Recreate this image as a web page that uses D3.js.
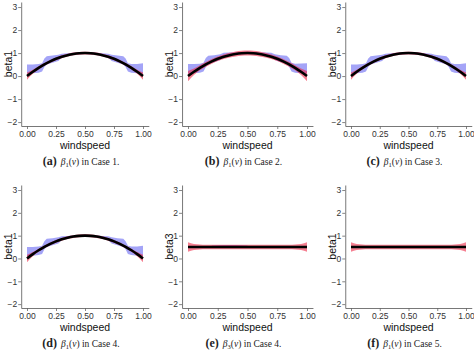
<!DOCTYPE html>
<html>
<head>
<meta charset="utf-8">
<script src="https://cdn.jsdelivr.net/npm/d3@7"></script>
<style>
  body { margin: 0; background: #fff; }
  svg { display: block; }
  .tick text { font-family: "Liberation Sans", Arial, sans-serif; font-size: 8.5px; fill: #333; }
  .axis-title { font-family: "Liberation Sans", Arial, sans-serif; font-size: 10.5px; fill: #111; }
  .caption { font-family: "Liberation Serif", "DejaVu Serif", serif; fill: #222; }
</style>
</head>
<body>
<div id="main"></div>
<script>
const W = 474, H = 351;

// grid for the true curves / red bands
const vGrid = [0, 0.05, 0.10, 0.15, 0.20, 0.25, 0.30, 0.35, 0.40, 0.45, 0.50,
               0.55, 0.60, 0.65, 0.70, 0.75, 0.80, 0.85, 0.90, 0.95, 1.00];
const beta1True = [0.00, 0.19, 0.36, 0.51, 0.64, 0.75, 0.84, 0.91, 0.96, 0.99, 1.00,
                   0.99, 0.96, 0.91, 0.84, 0.75, 0.64, 0.51, 0.36, 0.19, 0.00];
const flatTrue = [0.50, 0.50, 0.50, 0.50, 0.50, 0.50, 0.50, 0.50, 0.50, 0.50, 0.50,
                  0.50, 0.50, 0.50, 0.50, 0.50, 0.50, 0.50, 0.50, 0.50, 0.50];

// half width of the red bands
const redHalfNarrow = [0.16, 0.09, 0.07, 0.06, 0.06, 0.06, 0.06, 0.06, 0.06, 0.06, 0.06,
                       0.06, 0.06, 0.06, 0.06, 0.06, 0.06, 0.06, 0.07, 0.09, 0.16];
const redHalfWide = [0.22, 0.14, 0.11, 0.10, 0.10, 0.10, 0.10, 0.10, 0.11, 0.11, 0.11,
                     0.11, 0.11, 0.10, 0.10, 0.10, 0.10, 0.10, 0.11, 0.14, 0.22];
const redHalfFlat = [0.21, 0.13, 0.11, 0.10, 0.10, 0.10, 0.10, 0.10, 0.10, 0.10, 0.10,
                     0.10, 0.10, 0.10, 0.10, 0.10, 0.10, 0.10, 0.11, 0.13, 0.21];

// blue band (step-like estimates)
const vBlue  = [0.00, 0.05, 0.10, 0.13, 0.15, 0.17, 0.22, 0.27, 0.30, 0.35, 0.40, 0.45, 0.50,
                0.55, 0.60, 0.65, 0.70, 0.73, 0.78, 0.83, 0.85, 0.87, 0.90, 0.95, 1.00];
const blueLo = [0.10, 0.12, 0.15, 0.20, 0.40, 0.50, 0.58, 0.66, 0.80, 0.88, 0.92, 0.95, 0.96,
                0.95, 0.92, 0.88, 0.80, 0.66, 0.58, 0.50, 0.40, 0.20, 0.15, 0.12, 0.10];
const blueHi = [0.50, 0.50, 0.52, 0.56, 0.76, 0.86, 0.89, 0.93, 0.97, 0.99, 1.01, 1.03, 1.04,
                1.03, 1.01, 0.99, 0.97, 0.93, 0.89, 0.86, 0.76, 0.56, 0.52, 0.53, 0.56];
const blueLoB = [0.10, 0.12, 0.15, 0.20, 0.40, 0.52, 0.60, 0.70, 0.84, 0.90, 0.93, 0.95, 0.96,
                 0.95, 0.93, 0.90, 0.84, 0.70, 0.60, 0.52, 0.40, 0.20, 0.15, 0.12, 0.10];
const blueHiB = [0.52, 0.52, 0.54, 0.58, 0.79, 0.88, 0.91, 0.95, 1.01, 1.02, 1.03, 1.05, 1.06,
                 1.05, 1.03, 1.02, 1.01, 0.95, 0.91, 0.88, 0.79, 0.58, 0.54, 0.55, 0.56];
const vBlueFlat  = [0.20, 0.30, 0.40, 0.50];
const blueLoFlat = [0.49, 0.48, 0.48, 0.49];
const blueHiFlat = [0.57, 0.59, 0.59, 0.57];

const yTicks = [-2, -1, 0, 1, 2, 3];
const xTicks = [0, 0.25, 0.5, 0.75, 1];

const panels = [
  { id: "a", row: 0, col: 0, ylab: "beta1", sub: "1", caseNo: "1", truth: beta1True, red: redHalfNarrow, bv: vBlue, blo: blueLo, bhi: blueHi },
  { id: "b", row: 0, col: 1, ylab: "beta1", sub: "1", caseNo: "2", truth: beta1True, red: redHalfWide, bv: vBlue, blo: blueLoB, bhi: blueHiB },
  { id: "c", row: 0, col: 2, ylab: "beta1", sub: "1", caseNo: "3", truth: beta1True, red: redHalfNarrow, bv: vBlue, blo: blueLo, bhi: blueHi },
  { id: "d", row: 1, col: 0, ylab: "beta1", sub: "1", caseNo: "4", truth: beta1True, red: redHalfNarrow, bv: vBlue, blo: blueLo, bhi: blueHi },
  { id: "e", row: 1, col: 1, ylab: "beta3", sub: "3", caseNo: "4", truth: flatTrue, red: redHalfFlat, bv: vBlueFlat, blo: blueLoFlat, bhi: blueHiFlat },
  { id: "f", row: 1, col: 2, ylab: "beta1", sub: "1", caseNo: "5", truth: flatTrue, red: redHalfFlat, bv: [], blo: [], bhi: [] }
];

const COLS = [{ x0: 27, x1: 143 }, { x0: 188, x1: 307 }, { x0: 351, x1: 466 }];
const ROWS = [{ top: 2, bottom: 126 }, { top: 185, bottom: 308 }];

var svg = d3.select("#main").append("svg")
    .attr("width", W)
    .attr("height", H);

var drawPanel = function (p) {
    let c = COLS[p.col], r = ROWS[p.row];
    let span = c.x1 - c.x0;
    let x = d3.scaleLinear().domain([-0.05, 1.05]).range([c.x0 - 0.05 * span, c.x1 + 0.05 * span]);
    let y = d3.scaleLinear().domain([-2.17, 3.22]).range([r.bottom, r.top]);
    let g = svg.append("g").attr("id", "panel-" + p.id);

    // blue band
    if (p.bv.length) {
        let blue = p.bv.map((v, i) => [v, p.blo[i], p.bhi[i]]);
        g.append("path")
            .datum(blue)
            .attr("d", d3.area().x(d => x(d[0])).y0(d => y(d[1])).y1(d => y(d[2])))
            .attr("fill", "#8585f4")
            .attr("fill-opacity", 0.75);
    }
    // red band
    let red = vGrid.map((v, i) => [v, p.truth[i] - p.red[i], p.truth[i] + p.red[i]]);
    g.append("path")
        .datum(red)
        .attr("d", d3.area().curve(d3.curveMonotoneX).x(d => x(d[0])).y0(d => y(d[1])).y1(d => y(d[2])))
        .attr("fill", "#ee2a48")
        .attr("fill-opacity", 0.6);
    // true curve
    g.append("path")
        .datum(vGrid.map((v, i) => [v, p.truth[i]]))
        .attr("d", d3.line().curve(d3.curveMonotoneX).x(d => x(d[0])).y(d => y(d[1])))
        .attr("fill", "none")
        .attr("stroke", "#000")
        .attr("stroke-width", 2.6);

    // axes
    let xAxis = g.append("g")
        .attr("transform", `translate(0,${r.bottom})`)
        .call(d3.axisBottom(x).tickValues(xTicks).tickFormat(d3.format(".2f")).tickSize(3).tickSizeOuter(0));
    let yAxis = g.append("g")
        .attr("transform", `translate(${x(-0.05)},0)`)
        .call(d3.axisLeft(y).tickValues(yTicks).tickFormat(d3.format("d")).tickSize(3).tickSizeOuter(0));
    [xAxis, yAxis].forEach(a => {
        a.select(".domain").attr("stroke", "#555").attr("stroke-width", 0.8);
        a.selectAll(".tick line").attr("stroke", "#666").attr("stroke-width", 0.8);
    });
    xAxis.selectAll(".tick text").attr("y", 5);
    yAxis.selectAll(".tick text").attr("x", -4);

    // titles
    g.append("text")
        .attr("class", "axis-title")
        .attr("x", (c.x0 + c.x1) / 2)
        .attr("y", r.bottom + 23)
        .attr("text-anchor", "middle")
        .text("windspeed");
    g.append("text")
        .attr("class", "axis-title")
        .attr("transform", `translate(${x(-0.05) - 13},${(r.top + r.bottom) / 2}) rotate(-90)`)
        .attr("text-anchor", "middle")
        .attr("dy", "0.35em")
        .text(p.ylab);

    // caption
    let cap = g.append("text")
        .attr("class", "caption")
        .attr("x", (c.x0 + c.x1) / 2 - 4)
        .attr("y", r.bottom + 39)
        .attr("text-anchor", "middle");
    cap.append("tspan").attr("font-weight", "bold").attr("font-size", 12).text("(" + p.id + ")");
    cap.append("tspan").attr("font-size", 9.5).attr("font-style", "italic").attr("dx", 4).text("β");
    cap.append("tspan").attr("font-size", 6.5).attr("dy", 2).text(p.sub);
    cap.append("tspan").attr("font-size", 9.5).attr("dy", -2).text("(");
    cap.append("tspan").attr("font-size", 9.5).attr("font-style", "italic").text("v");
    cap.append("tspan").attr("font-size", 9.5).text(") in Case " + p.caseNo + ".");
};

panels.forEach(drawPanel);
</script>
</body>
</html>
